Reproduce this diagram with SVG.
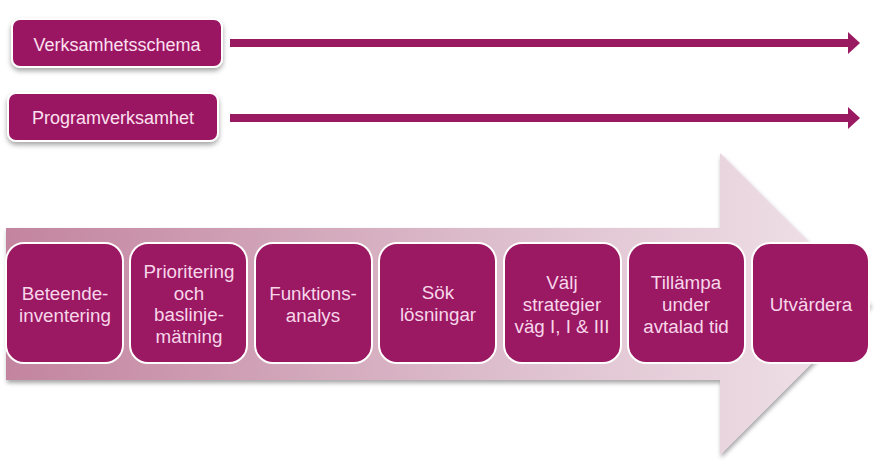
<svg xmlns="http://www.w3.org/2000/svg" width="881" height="469" viewBox="0 0 881 469">
<defs>
<linearGradient id="bigGrad" x1="6" y1="0" x2="871" y2="0" gradientUnits="userSpaceOnUse">
<stop offset="0" stop-color="#c3849f"/>
<stop offset="0.55" stop-color="#dcbccb"/>
<stop offset="1" stop-color="#f1e4ea"/>
</linearGradient>
<filter id="shadow" x="-10%" y="-10%" width="120%" height="130%">
<feDropShadow dx="0" dy="3" stdDeviation="2.5" flood-color="#000" flood-opacity="0.35"/>
</filter>
<filter id="bshadow" x="-5%" y="-20%" width="110%" height="140%">
<feDropShadow dx="1" dy="3" stdDeviation="2" flood-color="#000" flood-opacity="0.35"/>
</filter>
<marker id="ah" viewBox="0 0 12 22" refX="0" refY="11" markerWidth="12" markerHeight="22" markerUnits="userSpaceOnUse" orient="auto">
<path d="M0,0 L12,11 L0,22 Z" fill="#9a1a62"/>
</marker>
</defs>
<style>
.top rect{fill:#9b1862;stroke:#ffffff;stroke-width:2;filter:url(#shadow)}
.top text{font-family:"Liberation Sans",Arial,sans-serif;font-size:18px;fill:#fbe1f0;text-anchor:middle}
.step rect{fill:#9b1862;stroke:#ffffff;stroke-width:2}
.step text{font-family:"Liberation Sans",Arial,sans-serif;font-size:18.8px;fill:#f7d6ea;text-anchor:middle}
.conn line{stroke:#9a1a62;stroke-width:8;marker-end:url(#ah)}
</style>
<g id="bigArrow">
<path d="M6,228 L720,228 L720,153 L871,304 L720,455 L720,380 L6,380 Z" fill="url(#bigGrad)" filter="url(#bshadow)"/>
</g>
<g id="connectors" class="conn">
<line x1="230" y1="43" x2="848" y2="43"/>
<line x1="230" y1="118" x2="848" y2="118"/>
</g>
<g id="n-verksamhetsschema" class="top">
<rect x="12" y="19" width="210" height="48" rx="8"/>
<text x="117" y="51">Verksamhetsschema</text>
</g>
<g id="n-programverksamhet" class="top">
<rect x="8" y="93" width="210" height="48" rx="8"/>
<text x="113" y="124">Programverksamhet</text>
</g>
<g id="s1" class="step">
<rect x="6" y="243" width="117" height="120" rx="18"/>
<text x="65" y="300">Beteende-</text>
<text x="65" y="322">inventering</text>
</g>
<g id="s2" class="step">
<rect x="130" y="243" width="117" height="120" rx="18"/>
<text x="189" y="278">Prioritering</text>
<text x="189" y="299.5">och</text>
<text x="189" y="321">baslinje-</text>
<text x="189" y="343">mätning</text>
</g>
<g id="s3" class="step">
<rect x="255" y="243" width="117" height="120" rx="18"/>
<text x="313" y="300">Funktions-</text>
<text x="313" y="322">analys</text>
</g>
<g id="s4" class="step">
<rect x="379" y="243" width="117" height="120" rx="18"/>
<text x="438" y="299">Sök</text>
<text x="438" y="321">lösningar</text>
</g>
<g id="s5" class="step">
<rect x="504" y="243" width="117" height="120" rx="18"/>
<text x="562" y="289">Välj</text>
<text x="562" y="311">strategier</text>
<text x="562" y="333">väg I, I &amp; III</text>
</g>
<g id="s6" class="step">
<rect x="628" y="243" width="117" height="120" rx="18"/>
<text x="686" y="289">Tillämpa</text>
<text x="686" y="311">under</text>
<text x="686" y="333">avtalad tid</text>
</g>
<g id="s7" class="step">
<rect x="752" y="243" width="117" height="120" rx="18"/>
<text x="811" y="311">Utvärdera</text>
</g>
</svg>
